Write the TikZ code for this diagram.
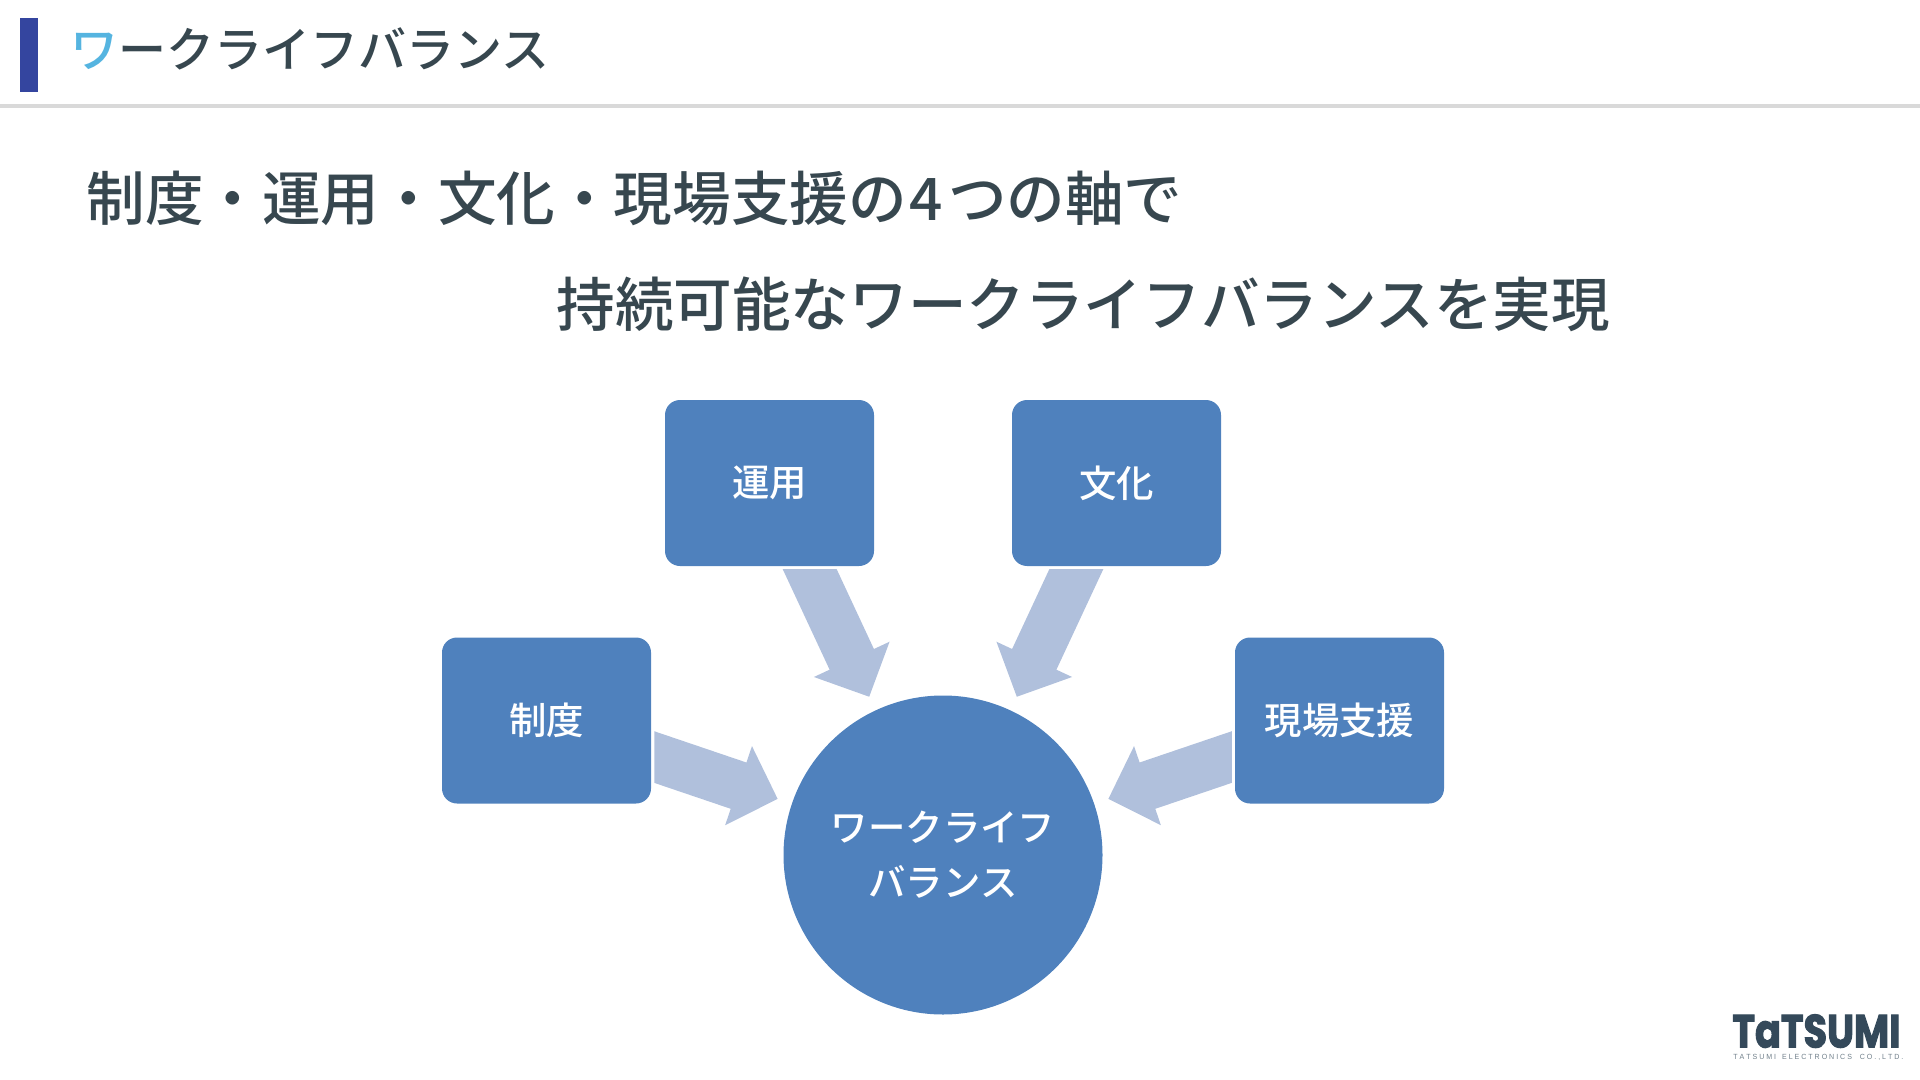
\documentclass[tikz,border=0pt]{standalone}
\usepackage{fontspec}
\setmainfont{Noto Sans CJK JP Medium}
\newfontfamily\logofont[FakeBold=2.5]{Poppins}
\newfontfamily\logosubfont{Liberation Sans}
\usetikzlibrary{arrows.meta}
\definecolor{inkc}{HTML}{37474F}
\definecolor{barc}{HTML}{34459F}
\definecolor{skyc}{HTML}{55B4E0}
\definecolor{rulec}{HTML}{D9D9D9}
\definecolor{boxc}{HTML}{4F81BD}
\definecolor{flowc}{HTML}{B0C0DC}
\definecolor{logoc}{HTML}{34495A}
\tikzset{
  x=0.5pt,y=-0.5pt,
  box/.style={draw=none,fill=boxc,rounded corners=7.5pt,minimum width=104.5pt,minimum height=83pt,inner sep=0pt,text=white,font=\fontsize{18.7pt}{22pt}\selectfont},
  hub/.style={circle,draw=none,fill=boxc,minimum size=159.5pt,inner sep=0pt,text=white,align=center,font=\fontsize{18.7pt}{27.5pt}\selectfont},
  flow/.style={draw=flowc,line width=24.45pt,shorten >=87.25pt,-{Triangle[length=20.7pt,width=40.5pt,color=flowc]}},
  heading/.style={anchor=west,inner sep=0pt,text=inkc,font=\fontsize{29.3pt}{34pt}\selectfont},
}
\begin{document}
\begin{tikzpicture}
\useasboundingbox (0,0) rectangle (1920,1080);
% header
\fill[barc] (20,18) rectangle (38,92);
\fill[rulec] (0,104) rectangle (1920,108);
\node[anchor=west,inner sep=0pt,text=inkc,font=\fontsize{24pt}{28pt}\selectfont] (title) at (70,49) {\textcolor{skyc}{ワ}ークライフバランス};
% headline
\node[heading] (lineone) at (86,198) {制度・運用・文化・現場支援の\hspace{1.5pt}4\hspace{2.5pt}つの軸で};
\node[heading] (linetwo) at (556,304) {持続可能なワークライフバランスを実現};
% nodes
\node[hub] (wlb) at (943,855) {ワークライフ\\バランス};
\node[box] (seido) at (546.5,720.5) {制度};
\node[box] (unyo) at (769.5,483) {運用};
\node[box] (bunka) at (1116.5,483) {文化};
\node[box] (genba) at (1339.5,720.5) {現場支援};
% connectors: centre to centre, tails trimmed by the clip
\begin{scope}
\clip (654.3,569.3) rectangle (1231.8,1080);
\draw[flow] (seido.center) -- (wlb.center);
\draw[flow] (unyo.center) -- (wlb.center);
\draw[flow] (bunka.center) -- (wlb.center);
\draw[flow] (genba.center) -- (wlb.center);
\end{scope}
% logo
\node[anchor=north west,inner sep=0pt,text=logoc] (logo) at (1732,1014) {\resizebox{84pt}{16.5pt}{\logofont\bfseries TaTSUMI}};
\node[anchor=north west,inner sep=0pt,text=logoc!70] (logosub) at (1733,1054) {\resizebox{85pt}{2.6pt}{\logosubfont T A T S U M I\ \ \ E L E C T R O N I C S\ \ \ \ C O . , L T D .}};
\end{tikzpicture}
\end{document}
